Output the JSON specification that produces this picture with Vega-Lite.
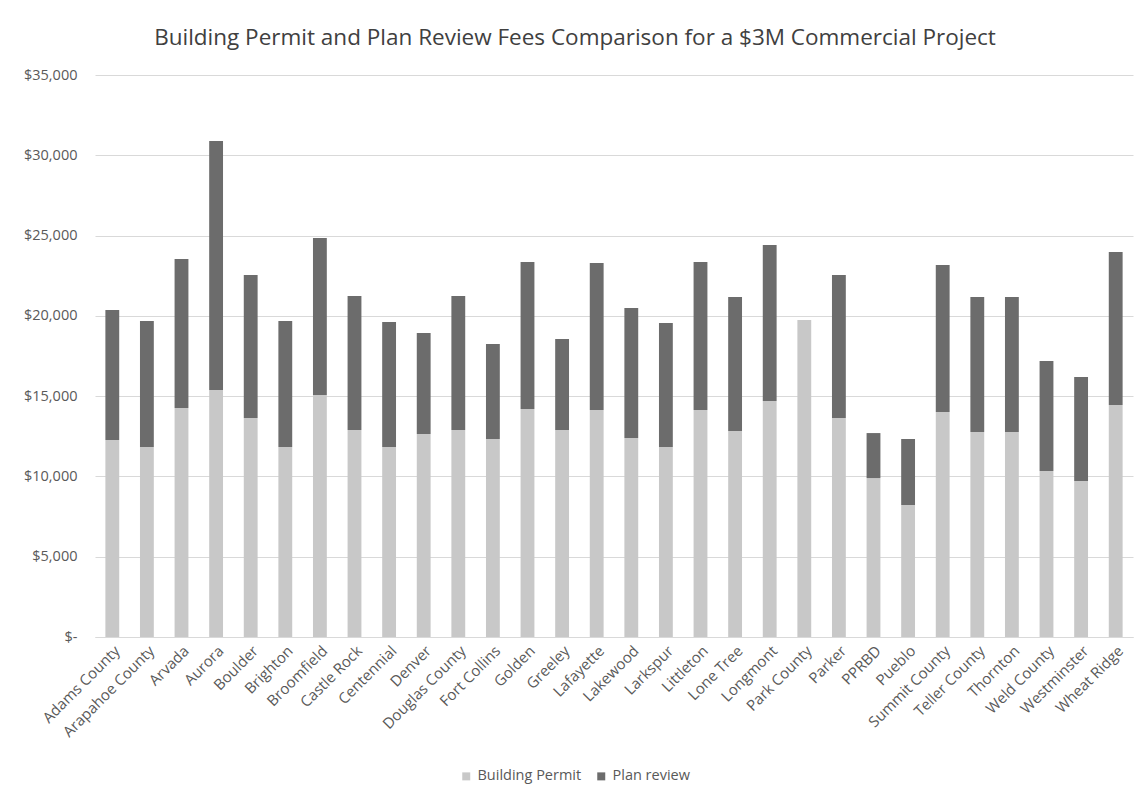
{
  "$schema": "https://vega.github.io/schema/vega-lite/v6.json",
  "autosize": {"type": "none"},
  "width": 1038,
  "height": 562,
  "padding": {"left": 95, "top": 75, "right": 4, "bottom": 164},
  "background": "white",
  "title": {
    "text": "Building Permit and Plan Review Fees Comparison for a $3M Commercial Project",
    "font": "Open Sans",
    "fontSize": 22.5,
    "fontWeight": "normal",
    "color": "#404040",
    "anchor": "middle",
    "dx": -39,
    "offset": 18
  },
  "config": {
    "view": {"stroke": null},
    "font": "Open Sans"
  },
  "data": {
    "values": [
      {"city": "Adams County", "fee": "Building Permit", "amount": 12270},
      {"city": "Adams County", "fee": "Plan review", "amount": 8100},
      {"city": "Arapahoe County", "fee": "Building Permit", "amount": 11830},
      {"city": "Arapahoe County", "fee": "Plan review", "amount": 7850},
      {"city": "Arvada", "fee": "Building Permit", "amount": 14260},
      {"city": "Arvada", "fee": "Plan review", "amount": 9280},
      {"city": "Aurora", "fee": "Building Permit", "amount": 15380},
      {"city": "Aurora", "fee": "Plan review", "amount": 15510},
      {"city": "Boulder", "fee": "Building Permit", "amount": 13640},
      {"city": "Boulder", "fee": "Plan review", "amount": 8905},
      {"city": "Brighton", "fee": "Building Permit", "amount": 11830},
      {"city": "Brighton", "fee": "Plan review", "amount": 7850},
      {"city": "Broomfield", "fee": "Building Permit", "amount": 15070},
      {"city": "Broomfield", "fee": "Plan review", "amount": 9780},
      {"city": "Castle Rock", "fee": "Building Permit", "amount": 12890},
      {"city": "Castle Rock", "fee": "Plan review", "amount": 8350},
      {"city": "Centennial", "fee": "Building Permit", "amount": 11830},
      {"city": "Centennial", "fee": "Plan review", "amount": 7790},
      {"city": "Denver", "fee": "Building Permit", "amount": 12640},
      {"city": "Denver", "fee": "Plan review", "amount": 6290},
      {"city": "Douglas County", "fee": "Building Permit", "amount": 12890},
      {"city": "Douglas County", "fee": "Plan review", "amount": 8350},
      {"city": "Fort Collins", "fee": "Building Permit", "amount": 12330},
      {"city": "Fort Collins", "fee": "Plan review", "amount": 5920},
      {"city": "Golden", "fee": "Building Permit", "amount": 14200},
      {"city": "Golden", "fee": "Plan review", "amount": 9150},
      {"city": "Greeley", "fee": "Building Permit", "amount": 12890},
      {"city": "Greeley", "fee": "Plan review", "amount": 5670},
      {"city": "Lafayette", "fee": "Building Permit", "amount": 14140},
      {"city": "Lafayette", "fee": "Plan review", "amount": 9150},
      {"city": "Lakewood", "fee": "Building Permit", "amount": 12390},
      {"city": "Lakewood", "fee": "Plan review", "amount": 8100},
      {"city": "Larkspur", "fee": "Building Permit", "amount": 11830},
      {"city": "Larkspur", "fee": "Plan review", "amount": 7730},
      {"city": "Littleton", "fee": "Building Permit", "amount": 14140},
      {"city": "Littleton", "fee": "Plan review", "amount": 9210},
      {"city": "Lone Tree", "fee": "Building Permit", "amount": 12830},
      {"city": "Lone Tree", "fee": "Plan review", "amount": 8340},
      {"city": "Longmont", "fee": "Building Permit", "amount": 14700},
      {"city": "Longmont", "fee": "Plan review", "amount": 9710},
      {"city": "Park County", "fee": "Building Permit", "amount": 19740},
      {"city": "Park County", "fee": "Plan review", "amount": 0},
      {"city": "Parker", "fee": "Building Permit", "amount": 13640},
      {"city": "Parker", "fee": "Plan review", "amount": 8905},
      {"city": "PPRBD", "fee": "Building Permit", "amount": 9900},
      {"city": "PPRBD", "fee": "Plan review", "amount": 2800},
      {"city": "Pueblo", "fee": "Building Permit", "amount": 8220},
      {"city": "Pueblo", "fee": "Plan review", "amount": 4110},
      {"city": "Summit County", "fee": "Building Permit", "amount": 14010},
      {"city": "Summit County", "fee": "Plan review", "amount": 9160},
      {"city": "Teller County", "fee": "Building Permit", "amount": 12770},
      {"city": "Teller County", "fee": "Plan review", "amount": 8400},
      {"city": "Thornton", "fee": "Building Permit", "amount": 12770},
      {"city": "Thornton", "fee": "Plan review", "amount": 8400},
      {"city": "Weld County", "fee": "Building Permit", "amount": 10340},
      {"city": "Weld County", "fee": "Plan review", "amount": 6850},
      {"city": "Westminster", "fee": "Building Permit", "amount": 9720},
      {"city": "Westminster", "fee": "Plan review", "amount": 6470},
      {"city": "Wheat Ridge", "fee": "Building Permit", "amount": 14450},
      {"city": "Wheat Ridge", "fee": "Plan review", "amount": 9530}
    ]
  },
  "mark": {"type": "bar", "stroke": null},
  "encoding": {
    "x": {
      "field": "city",
      "type": "nominal",
      "sort": null,
      "title": null,
      "scale": {"paddingInner": 0.6, "paddingOuter": 0.3},
      "axis": {
        "labelAngle": -45,
        "labelAlign": "right",
        "labelBaseline": "top",
        "labelFontSize": 15,
        "labelColor": "#595959",
        "labelPadding": 6,
        "ticks": false,
        "domain": true,
        "domainColor": "#d9d9d9",
        "labelOverlap": false,
        "labelLimit": 300
      }
    },
    "y": {
      "field": "amount",
      "type": "quantitative",
      "stack": "zero",
      "title": null,
      "scale": {"domain": [0, 35000], "nice": false},
      "axis": {
        "values": [0, 5000, 10000, 15000, 20000, 25000, 30000, 35000],
        "labelExpr": "datum.value == 0 ? '$-' : '$' + format(datum.value, ',')",
        "labelFontSize": 14.5,
        "labelColor": "#595959",
        "labelPadding": 18,
        "ticks": false,
        "domain": false,
        "gridColor": "#d9d9d9",
        "gridWidth": 1
      }
    },
    "color": {
      "field": "fee",
      "type": "nominal",
      "scale": {"domain": ["Building Permit", "Plan review"], "range": ["#c8c8c8", "#6c6c6c"]},
      "legend": {
        "title": null,
        "orient": "none",
        "direction": "horizontal",
        "legendX": 364,
        "legendY": 694,
        "symbolType": "square",
        "symbolSize": 64,
        "symbolStrokeWidth": 0,
        "labelFontSize": 14.5,
        "labelColor": "#595959",
        "columnPadding": 12
      }
    },
    "order": {"field": "fee", "sort": "ascending"}
  }
}
